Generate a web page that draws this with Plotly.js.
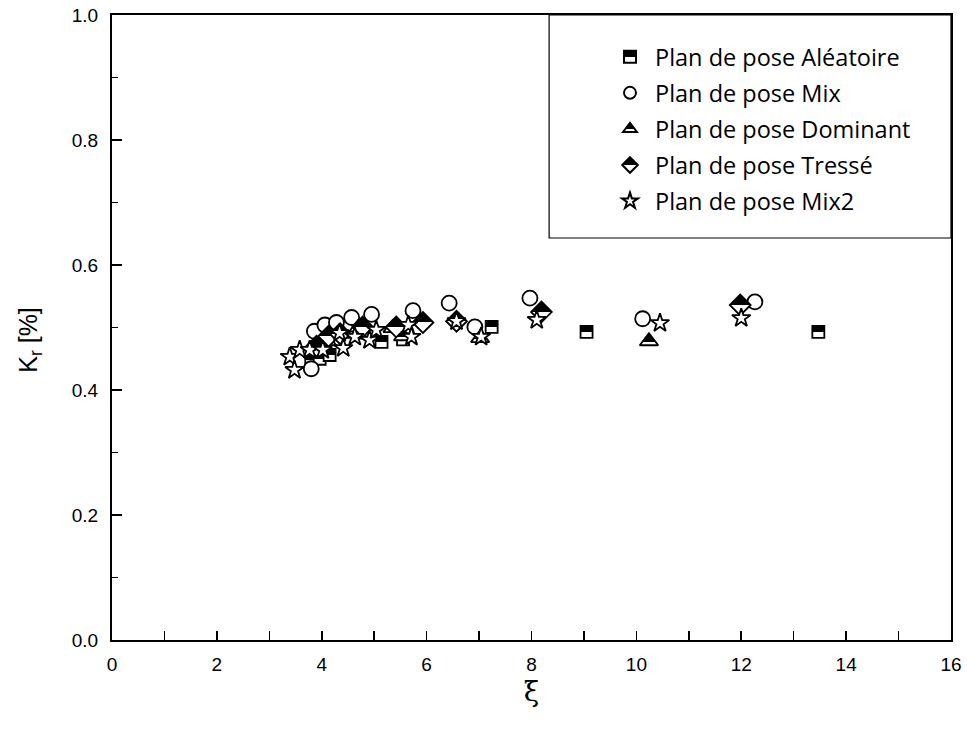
<!DOCTYPE html>
<html>
<head>
<meta charset="utf-8">
<script src="https://cdn.plot.ly/plotly-3.0.1.min.js"></script>
<style>html,body{margin:0;padding:0;background:#fff;}#chart{width:967px;height:739px;}</style>
</head>
<body>
<div id="chart"></div>
<script>
// Data
const aleaX = [3.80, 3.96, 4.15, 4.72, 5.14, 5.55, 7.24, 9.05, 13.47];
const aleaY = [0.448, 0.450, 0.456, 0.492, 0.477, 0.481, 0.501, 0.493, 0.493];

const mixX = [3.80, 3.86, 4.06, 4.28, 4.57, 4.95, 5.74, 6.43, 6.92, 7.97, 10.12, 12.26];
const mixY = [0.434, 0.494, 0.504, 0.508, 0.516, 0.521, 0.527, 0.539, 0.501, 0.547, 0.514, 0.541];

const domX = [3.96, 4.10, 4.40, 4.70, 5.35, 5.55, 7.02, 10.24];
const domY = [0.466, 0.478, 0.490, 0.500, 0.499, 0.486, 0.483, 0.478];

const tresX = [3.90, 4.13, 4.35, 4.78, 5.42, 5.93, 6.57, 8.19, 11.98];
const tresY = [0.470, 0.486, 0.490, 0.501, 0.501, 0.508, 0.510, 0.525, 0.536];

const mix2X = [3.39, 3.48, 3.58, 3.77, 4.02, 4.34, 4.41, 4.63, 4.91, 5.04, 5.65, 5.71, 6.57, 7.04, 8.10, 10.45, 12.00];
const mix2Y = [0.453, 0.432, 0.464, 0.464, 0.464, 0.491, 0.467, 0.485, 0.480, 0.496, 0.504, 0.485, 0.510, 0.485, 0.512, 0.507, 0.515];

const names = ['Plan de pose Aléatoire', 'Plan de pose Mix', 'Plan de pose Dominant', 'Plan de pose Tressé', 'Plan de pose Mix2'];
const yTitle = 'K<sub>r</sub> [%]';
const xTitle = 'ξ';

const halfGrad = {type: 'vertical', color: '#ffffff'};
const lineBlk = {color: '#000', width: 1.8};

const traces = [
  {x: aleaX, y: aleaY, name: names[0], uid: 'sq', legendgroup: 'a', mode: 'markers', type: 'scatter',
   marker: {symbol: 'square', size: 12, color: '#000', gradient: halfGrad, line: lineBlk}},
  {x: mixX, y: mixY, name: names[1], uid: 'ci', legendgroup: 'b', mode: 'markers', type: 'scatter',
   marker: {symbol: 'circle', size: 15, color: '#fff', line: lineBlk}},
  {x: domX, y: domY, name: names[2], uid: 'tri', legendgroup: 'c', mode: 'markers', type: 'scatter',
   marker: {symbol: 'triangle-up', size: 16, color: '#000', gradient: halfGrad, line: lineBlk}},
  {x: tresX, y: tresY, name: names[3], uid: 'di', legendgroup: 'd', mode: 'markers', type: 'scatter',
   marker: {symbol: 'diamond', size: 16, color: '#000', gradient: halfGrad, line: lineBlk}},
  {x: mix2X, y: mix2Y, name: names[4], uid: 'st', legendgroup: 'e', mode: 'markers', type: 'scatter',
   marker: {symbol: 'star', size: 14, color: '#fff', line: lineBlk}}
];

const tickFont = {family: 'Liberation Sans, Arial, sans-serif', size: 19, color: '#000'};

const layout = {
  width: 967, height: 739,
  margin: {l: 112, r: 16, t: 15, b: 99},
  paper_bgcolor: '#fff', plot_bgcolor: '#fff',
  showlegend: true,
  legend: {
    x: 0.5876, xanchor: 'left', y: 0.968, yanchor: 'top',
    bgcolor: 'rgba(0,0,0,0)', borderwidth: 0,
    font: {family: 'Open Sans, Noto Sans, sans-serif', size: 23.5, color: '#000'},
    tracegroupgap: 2.5, itemwidth: 40, itemsizing: 'constant'
  },
  xaxis: {
    range: [0, 16], dtick: 2, tick0: 0,
    ticks: 'inside', ticklen: 9, tickwidth: 1.6, tickcolor: '#000',
    minor: {dtick: 1, ticks: 'inside', ticklen: 9, tickwidth: 1.6, tickcolor: '#000', showgrid: false},
    showline: true, linewidth: 2, linecolor: '#000', mirror: true,
    showgrid: false, zeroline: false,
    tickfont: tickFont, ticklabelstandoff: 6,
    title: {text: xTitle, font: {family: 'DejaVu Serif, serif', size: 28, color: '#000'}, standoff: 3}
  },
  yaxis: {
    range: [0, 1], dtick: 0.2, tick0: 0, tickformat: '.1f',
    ticks: 'inside', ticklen: 10, tickwidth: 1.6, tickcolor: '#000',
    minor: {dtick: 0.1, ticks: 'inside', ticklen: 6, tickwidth: 1.6, tickcolor: '#000', showgrid: false},
    showline: true, linewidth: 2, linecolor: '#000', mirror: true,
    showgrid: false, zeroline: false,
    tickfont: tickFont, ticklabelstandoff: 8
  },
  annotations: [
    {text: yTitle, xref: 'paper', yref: 'paper', x: -0.098, y: 0.48, xanchor: 'center', yanchor: 'middle',
     textangle: -90, showarrow: false, font: {family: 'Liberation Sans, Arial, sans-serif', size: 25, color: '#000'}}
  ],
  shapes: [
    {type: 'rect', xref: 'paper', yref: 'paper', x0: 0.521, x1: 1, y0: 0.6432, y1: 1,
     line: {color: '#000', width: 1.2}, fillcolor: 'rgba(0,0,0,0)', layer: 'above'}
  ]
};

function hardenGradients() {
  document.querySelectorAll('linearGradient').forEach(function (g) {
    const id = g.getAttribute('id') || '';
    const split = id.indexOf('tri') >= 0 ? 72 : 50;
    // top-to-bottom: black on top, white below, hard edge
    g.setAttribute('x1', '0'); g.setAttribute('x2', '0');
    g.setAttribute('y1', '0'); g.setAttribute('y2', '1');
    while (g.firstChild) g.removeChild(g.firstChild);
    [[0, '#000000'], [split, '#000000'], [split, '#ffffff'], [100, '#ffffff']].forEach(function (s) {
      const st = document.createElementNS('http://www.w3.org/2000/svg', 'stop');
      st.setAttribute('offset', s[0] + '%');
      st.setAttribute('stop-color', s[1]);
      st.setAttribute('stop-opacity', '1');
      g.appendChild(st);
    });
  });
}

Plotly.newPlot('chart', traces, layout, {staticPlot: true}).then(hardenGradients);
</script>
</body>
</html>
